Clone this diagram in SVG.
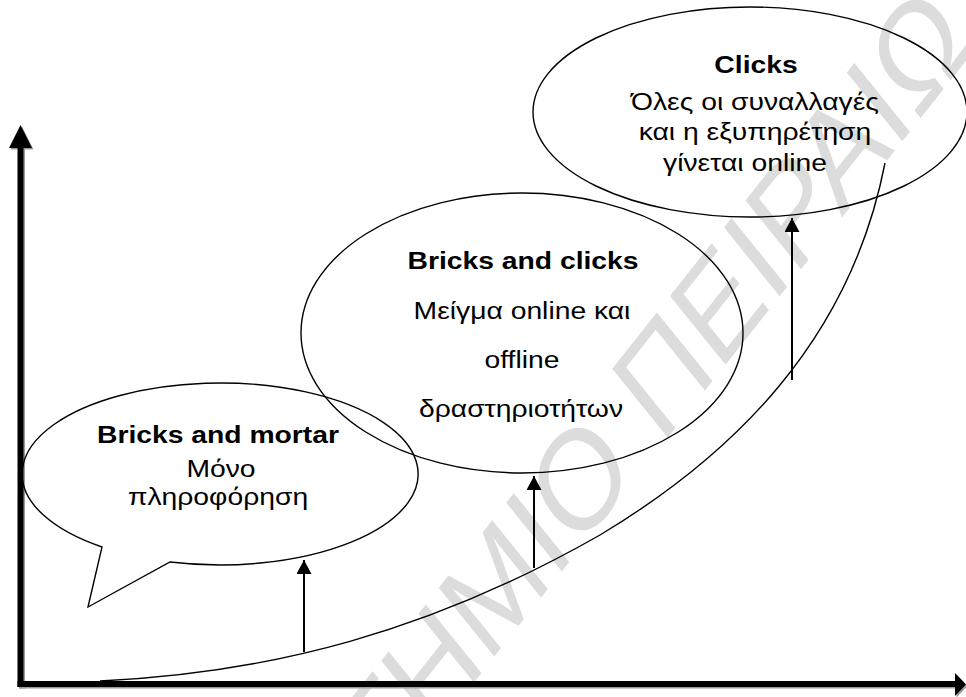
<svg xmlns="http://www.w3.org/2000/svg" width="966" height="697" viewBox="0 0 966 697">
  <defs>
    <marker id="head" markerUnits="userSpaceOnUse" markerWidth="16" markerHeight="15" refX="14" refY="7.5" orient="auto">
      <path d="M0,0 L14,7.5 L0,15 z" fill="#000"/>
    </marker>
  </defs>
  <style>
    .lbl{font-family:"Liberation Sans",Arial,sans-serif;font-size:23px;fill:#000;text-anchor:middle}
    .b{font-weight:bold}
    .outline{fill:none;stroke:#000;stroke-width:1.4}
    .wm{font-family:"Liberation Sans",Arial,sans-serif;font-size:142px;fill:#dcdcdc}
    .step{stroke:#000;stroke-width:2;fill:none;marker-end:url(#head)}
    .axis{fill:#000}
    .shadow{fill:#9a9a9a}
  </style>
  <rect width="966" height="697" fill="#fff"/>

  <!-- background watermark, origin at the word gap -->
  <g id="watermark" transform="translate(650,460) scale(0.8,1) rotate(-45.3)">
    <text class="wm" x="-20" y="0" text-anchor="end">ΠΑΝΕΠΙΣΤΗΜΙΟ</text>
    <text class="wm" x="20" y="0">ΠΕΙΡΑΙΩΣ</text>
  </g>

  <!-- axes -->
  <g id="axes">
    <g transform="translate(1.5,1.5)">
      <rect class="shadow" x="17.5" y="146" width="6" height="541"/>
      <polygon class="shadow" points="20.5,125 32,148 9,148"/>
      <rect class="shadow" x="17.5" y="681" width="939" height="6"/>
      <polygon class="shadow" points="966,684.5 955,673 955,696"/>
    </g>
    <rect class="axis" x="17.5" y="146" width="6" height="541"/>
    <polygon class="axis" points="20.5,125 32,148 9,148"/>
    <rect class="axis" x="17.5" y="681" width="939" height="6"/>
    <polygon class="axis" points="966,684.5 955,673 955,696"/>
  </g>

  <!-- connectors: growth curve and step arrows -->
  <g id="connectors">
    <path class="outline" d="M100,681 C270,673 430,632 600,535 C730,457 850,343 885,163"/>
    <line class="step" x1="304" y1="652" x2="304" y2="560"/>
    <line class="step" x1="534" y1="568" x2="534" y2="476"/>
    <line class="step" x1="792" y1="380" x2="792" y2="218"/>
  </g>

  <!-- stage 1: callout bubble -->
  <g id="bricks-mortar">
    <path class="outline" d="M170,562 A198,91 0 1 0 102,547 L88,607 Z"/>
    <text class="lbl b" transform="translate(218,443) scale(1.23,1)">Bricks and mortar</text>
    <text class="lbl" transform="translate(221,477) scale(1.23,1)">Μόνο</text>
    <text class="lbl" transform="translate(218,505) scale(1.23,1)">πληροφόρηση</text>
  </g>

  <!-- stage 2 -->
  <g id="bricks-clicks">
    <ellipse class="outline" cx="522" cy="333" rx="221" ry="140"/>
    <text class="lbl b" transform="translate(523,269) scale(1.23,1)">Bricks and clicks</text>
    <text class="lbl" transform="translate(522,319) scale(1.23,1)">Μείγμα online και</text>
    <text class="lbl" transform="translate(522,368) scale(1.23,1)">offline</text>
    <text class="lbl" transform="translate(521,417) scale(1.23,1)">δραστηριοτήτων</text>
  </g>

  <!-- stage 3 -->
  <g id="clicks">
    <ellipse class="outline" cx="750" cy="112" rx="217" ry="105"/>
    <text class="lbl b" transform="translate(756,73) scale(1.23,1)">Clicks</text>
    <text class="lbl" transform="translate(755,110) scale(1.23,1)">Όλες οι συναλλαγές</text>
    <text class="lbl" transform="translate(755,140) scale(1.23,1)">και η εξυπηρέτηση</text>
    <text class="lbl" transform="translate(745,171) scale(1.23,1)">γίνεται online</text>
  </g>
</svg>
